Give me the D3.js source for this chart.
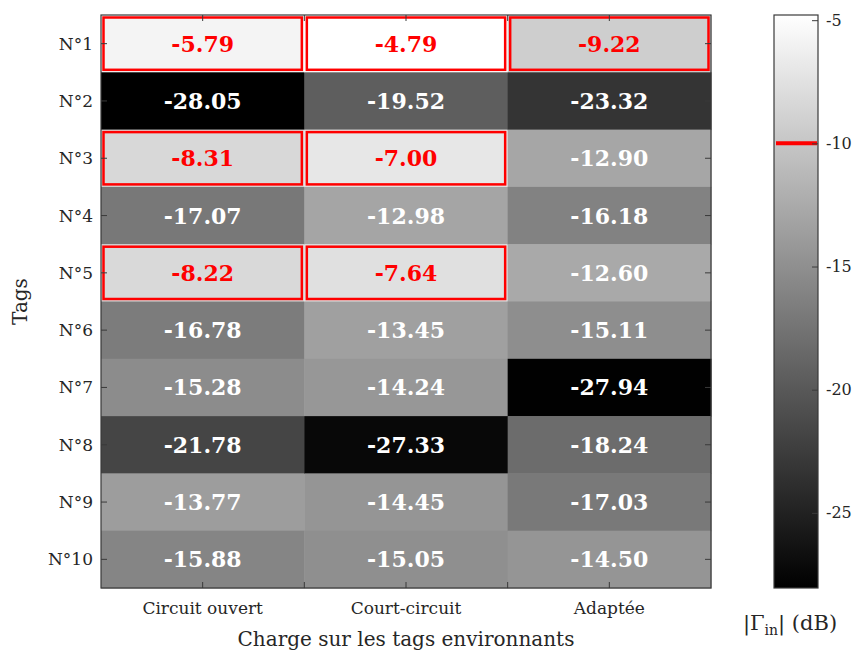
<!DOCTYPE html>
<html><head><meta charset="utf-8">
<script src="https://cdn.jsdelivr.net/npm/d3@7"></script>
<style>body{margin:0;background:#fff;}</style>
</head><body><svg id="c" width="855" height="653" font-family="DejaVu Serif"></svg>
<script>
const tags = ["N°1","N°2","N°3","N°4","N°5","N°6","N°7","N°8","N°9","N°10"];
const charges = ["Circuit ouvert","Court-circuit","Adaptée"];
const circuitOuvert = [-5.79,-28.05,-8.31,-17.07,-8.22,-16.78,-15.28,-21.78,-13.77,-15.88];
const courtCircuit  = [-4.79,-19.52,-7.00,-12.98,-7.64,-13.45,-14.24,-27.33,-14.45,-15.05];
const adaptee       = [-9.22,-23.32,-12.90,-16.18,-12.60,-15.11,-27.94,-18.24,-17.03,-14.50];
const cbTicks = [-5,-10,-15,-20,-25];
const threshold = -10;

const series = [circuitOuvert, courtCircuit, adaptee];
const cells = [];
series.forEach((s,j)=>s.forEach((v,i)=>cells.push({tag:tags[i],charge:charges[j],v})));
const vmin = d3.min(cells,d=>d.v), vmax = d3.max(cells,d=>d.v);

const svg = d3.select("#c");
const L=101,R=711,T=15,B=588;
const x = d3.scaleBand().domain(charges).range([L,R]);
const y = d3.scaleBand().domain(tags).range([T,B]);
const col = d3.scaleLinear().domain([vmin,vmax]).range(["#000000","#ffffff"]);

svg.append("g").selectAll("rect").data(cells).join("rect")
  .attr("x",d=>x(d.charge)).attr("y",d=>y(d.tag))
  .attr("width",x.bandwidth()+0.5).attr("height",y.bandwidth()+0.5)
  .attr("fill",d=>col(d.v));

svg.append("g").selectAll("rect").data(cells.filter(d=>d.v>threshold)).join("rect")
  .attr("x",d=>x(d.charge)+2.5).attr("y",d=>y(d.tag)+2.5)
  .attr("width",x.bandwidth()-5).attr("height",y.bandwidth()-5)
  .attr("fill","none").attr("stroke","#ff0000").attr("stroke-width",2.5);

svg.append("g").selectAll("text").data(cells).join("text")
  .attr("x",d=>x(d.charge)+x.bandwidth()/2).attr("y",d=>y(d.tag)+y.bandwidth()/2)
  .attr("text-anchor","middle").attr("dominant-baseline","central")
  .attr("font-size",22).attr("font-weight","bold")
  .attr("fill",d=>d.v>threshold?"#ff0000":"#ffffff")
  .text(d=>d.v.toFixed(2));

svg.append("rect").attr("x",L).attr("y",T).attr("width",R-L).attr("height",B-T)
  .attr("fill","none").attr("stroke","#3a3a3a").attr("stroke-width",1.2);

const tk = 6;
const gt = svg.append("g").attr("stroke","#3a3a3a").attr("stroke-width",1);
charges.forEach(c=>{
  const cx = x(c)+x.bandwidth()/2;
  gt.append("line").attr("x1",cx).attr("x2",cx).attr("y1",B).attr("y2",B-tk);
  gt.append("line").attr("x1",cx).attr("x2",cx).attr("y1",T).attr("y2",T+tk);
});
charges.slice(1).forEach(c=>{
  const bx = x(c);
  gt.append("line").attr("x1",bx).attr("x2",bx).attr("y1",B).attr("y2",B-tk);
  gt.append("line").attr("x1",bx).attr("x2",bx).attr("y1",T).attr("y2",T+tk);
});
tags.forEach(t=>{
  const cy = y(t)+y.bandwidth()/2;
  gt.append("line").attr("x1",L).attr("x2",L+tk).attr("y1",cy).attr("y2",cy);
  gt.append("line").attr("x1",R).attr("x2",R-tk).attr("y1",cy).attr("y2",cy);
});

svg.append("g").selectAll("text").data(tags).join("text")
  .attr("x",L-8).attr("y",d=>y(d)+y.bandwidth()/2)
  .attr("text-anchor","end").attr("dominant-baseline","central")
  .attr("font-size",17).attr("fill","#262626").text(d=>d);

svg.append("g").selectAll("text").data(charges).join("text")
  .attr("x",d=>x(d)+x.bandwidth()/2).attr("y",B+26)
  .attr("text-anchor","middle").attr("font-size",17).attr("fill","#262626").text(d=>d);

svg.append("text").attr("x",(L+R)/2).attr("y",646).attr("text-anchor","middle")
  .attr("font-size",20).attr("fill","#262626").text("Charge sur les tags environnants");
svg.append("text").attr("transform",`translate(27,${(T+B)/2}) rotate(-90)`)
  .attr("text-anchor","middle").attr("font-size",20).attr("fill","#262626").text("Tags");

// colorbar
const CL=774,CR=818;
const cy = d3.scaleLinear().domain([vmin,vmax]).range([B,T]);
const defs = svg.append("defs");
const grad = defs.append("linearGradient").attr("id","g").attr("x1",0).attr("x2",0).attr("y1",1).attr("y2",0);
grad.append("stop").attr("offset",0).attr("stop-color",col(vmin));
grad.append("stop").attr("offset",1).attr("stop-color",col(vmax));
svg.append("rect").attr("x",CL).attr("y",T).attr("width",CR-CL).attr("height",B-T).attr("fill","url(#g)");
svg.append("line").attr("x1",CL+2).attr("x2",CR-1).attr("y1",cy(threshold)).attr("y2",cy(threshold))
  .attr("stroke","#ff0000").attr("stroke-width",4);
svg.append("rect").attr("x",CL).attr("y",T).attr("width",CR-CL).attr("height",B-T)
  .attr("fill","none").attr("stroke","#3a3a3a").attr("stroke-width",1.2);
const cbAxis = d3.axisRight(cy).tickValues(cbTicks).tickSize(-6).tickPadding(8).tickFormat(d=>String(d));
const ga = svg.append("g").attr("transform",`translate(${CR},0)`).call(cbAxis);
ga.select(".domain").remove();
ga.selectAll("line").attr("stroke","#3a3a3a");
ga.selectAll("text").attr("font-size",16).attr("fill","#262626").attr("font-family","DejaVu Serif");

const lab = svg.append("text").attr("x",790).attr("y",630).attr("text-anchor","middle")
  .attr("font-size",21).attr("fill","#262626");
lab.append("tspan").text("|Γ");
lab.append("tspan").attr("font-size",14).attr("dy",5).text("in");
lab.append("tspan").attr("dy",-5).text("| (dB)");
</script></body></html>
